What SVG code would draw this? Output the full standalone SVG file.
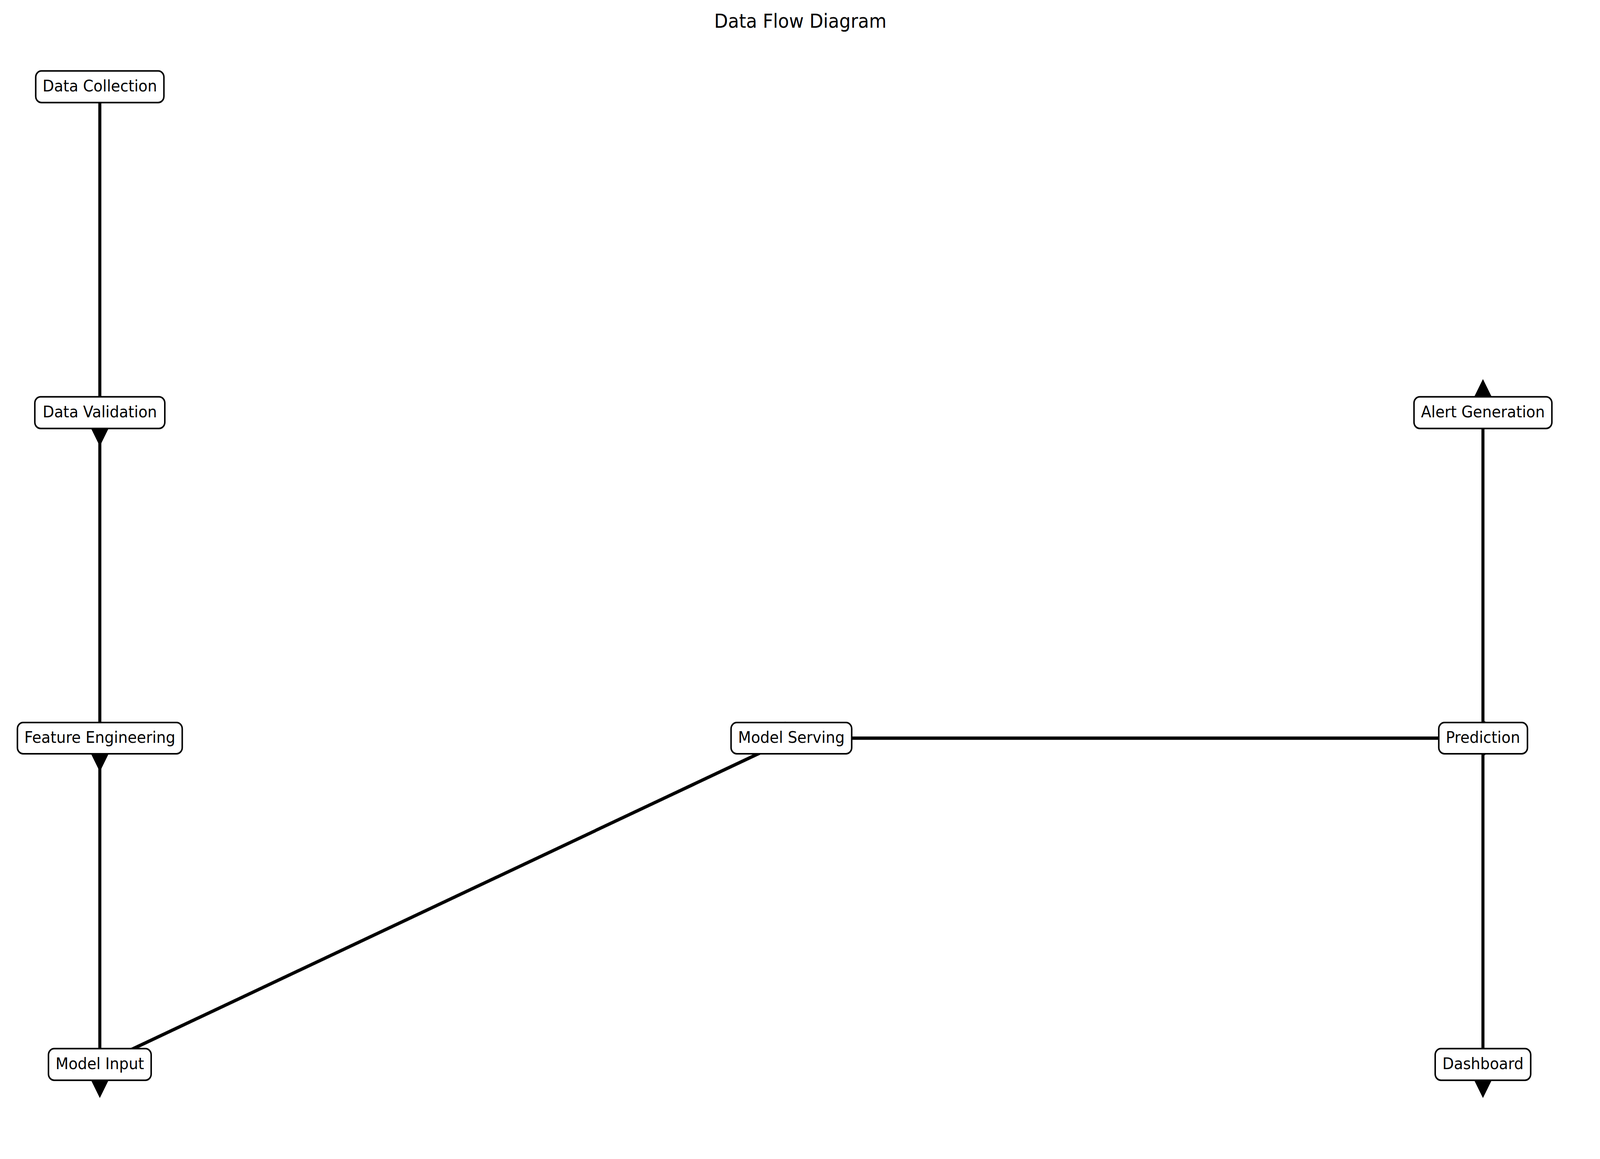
<svg xmlns="http://www.w3.org/2000/svg" width="4456" height="2966" viewBox="0 0 4456 2966" preserveAspectRatio="none">
<style>
svg{width:100vw;height:100vh;display:block}
.bg{fill:#ffffff}
.node rect{fill:#ffffff;stroke:#000000;stroke-width:4.2}
.node text{font-family:"DejaVu Sans","Liberation Sans",sans-serif;font-size:41.67px;fill:#000000;text-anchor:middle}
.title{font-family:"DejaVu Sans","Liberation Sans",sans-serif;font-size:50px;fill:#000000;text-anchor:middle}
.edge{stroke:#000000;stroke-width:8.5;fill:none;marker-end:url(#head)}
</style>
<defs>
<marker id="head" markerUnits="userSpaceOnUse" markerWidth="100" markerHeight="100" viewBox="0 -50 100 100" refX="0" refY="0" orient="auto" overflow="visible">
<path d="M0,-46 L86,0 L0,46 Z" fill="#000000"/>
</marker>
</defs>
<rect class="bg" x="0" y="0" width="4456" height="2966"/>
<text class="title" x="2229" y="71">Data Flow Diagram</text>
<g id="connectors">
<line class="edge" x1="278" y1="222" x2="278" y2="1056"/>
<line class="edge" x1="278" y1="1056" x2="278" y2="1889"/>
<line class="edge" x1="278" y1="1889" x2="278" y2="2724"/>
<line class="edge" x1="278" y1="2724" x2="2204" y2="1889"/>
<line class="edge" x1="2204" y1="1889" x2="4130" y2="1889"/>
<line class="edge" x1="4130" y1="1889" x2="4130" y2="1056"/>
<line class="edge" x1="4130" y1="1889" x2="4130" y2="2724"/>
</g>
<g id="node-data-collection" class="node">
<rect x="99.5" y="181.5" width="357" height="81" rx="16"/>
<text x="278" y="234">Data Collection</text>
</g>
<g id="node-data-validation" class="node">
<rect x="97" y="1015.5" width="362" height="81" rx="16"/>
<text x="278" y="1068">Data Validation</text>
</g>
<g id="node-feature-engineering" class="node">
<rect x="48.5" y="1849" width="459" height="80" rx="16"/>
<text x="278" y="1901">Feature Engineering</text>
</g>
<g id="node-model-input" class="node">
<rect x="135" y="2683.5" width="286" height="81" rx="16"/>
<text x="278" y="2736">Model Input</text>
</g>
<g id="node-model-serving" class="node">
<rect x="2036" y="1849" width="336" height="80" rx="16"/>
<text x="2204" y="1901">Model Serving</text>
</g>
<g id="node-prediction" class="node">
<rect x="4007" y="1849" width="247" height="80" rx="16"/>
<text x="4130" y="1901">Prediction</text>
</g>
<g id="node-alert-generation" class="node">
<rect x="3938" y="1015.5" width="384" height="81" rx="16"/>
<text x="4130" y="1068">Alert Generation</text>
</g>
<g id="node-dashboard" class="node">
<rect x="3997" y="2683.5" width="266" height="81" rx="16"/>
<text x="4130" y="2736">Dashboard</text>
</g>
</svg>
